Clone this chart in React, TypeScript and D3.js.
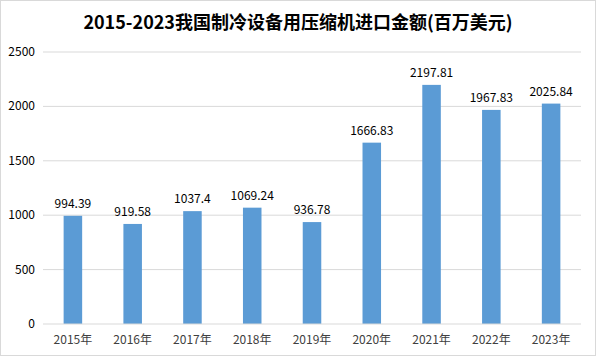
import React from "react";
import * as d3 from "d3";

const categories = ["2015年", "2016年", "2017年", "2018年", "2019年", "2020年", "2021年", "2022年", "2023年"];
const values = [994.39, 919.58, 1037.4, 1069.24, 936.78, 1666.83, 2197.81, 1967.83, 2025.84];
const labels = ["994.39", "919.58", "1037.4", "1069.24", "936.78", "1666.83", "2197.81", "1967.83", "2025.84"];
const yTicks = [0, 500, 1000, 1500, 2000, 2500];
const title = "2015-2023我国制冷设备用压缩机进口金额(百万美元)";

const W = 596;
const H = 357;
const font = "'Noto Sans CJK SC', 'Noto Sans', sans-serif";

export default function App() {
  const x = d3.scaleBand<string>().domain(categories).range([43, 581]).paddingInner(0.69).paddingOuter(0.345);
  const y = d3.scaleLinear().domain([0, 2500]).range([324, 52]);
  return (
    <svg width={W} height={H} style={{ position: "absolute", left: 0, top: 0 }} fontFamily={font}>
      <rect x={0} y={0} width={W} height={H} fill="#ffffff" />
      <rect x={0.5} y={0.5} width={W - 1} height={H - 2} fill="none" stroke="#d9d9d9" strokeWidth={1} />
      <text x={W / 2} y={29} textAnchor="middle" fontSize={18} fontWeight="bold" fill="#000">{title}</text>
      {yTicks.map((t) => (
        <g key={t}>
          {t > 0 && <line x1={43} x2={581} y1={y(t)} y2={y(t)} stroke="#d9d9d9" strokeWidth={1} />}
          <text x={35} y={y(t) + 4} textAnchor="end" fontSize={12} fill="#000">{t}</text>
        </g>
      ))}
      {categories.map((c, i) => (
        <g key={c}>
          <rect x={x(c)} y={y(values[i])} width={x.bandwidth()} height={y(0) - y(values[i])} fill="#5b9bd5" />
          <text x={(x(c) as number) + x.bandwidth() / 2} y={y(values[i]) - 8} textAnchor="middle" fontSize={12} fill="#000">{labels[i]}</text>
          <text x={(x(c) as number) + x.bandwidth() / 2} y={344} textAnchor="middle" fontSize={12} fill="#404040">{c}</text>
        </g>
      ))}
      <line x1={43} x2={581} y1={y(0)} y2={y(0)} stroke="#d9d9d9" strokeWidth={1} />
    </svg>
  );
}
